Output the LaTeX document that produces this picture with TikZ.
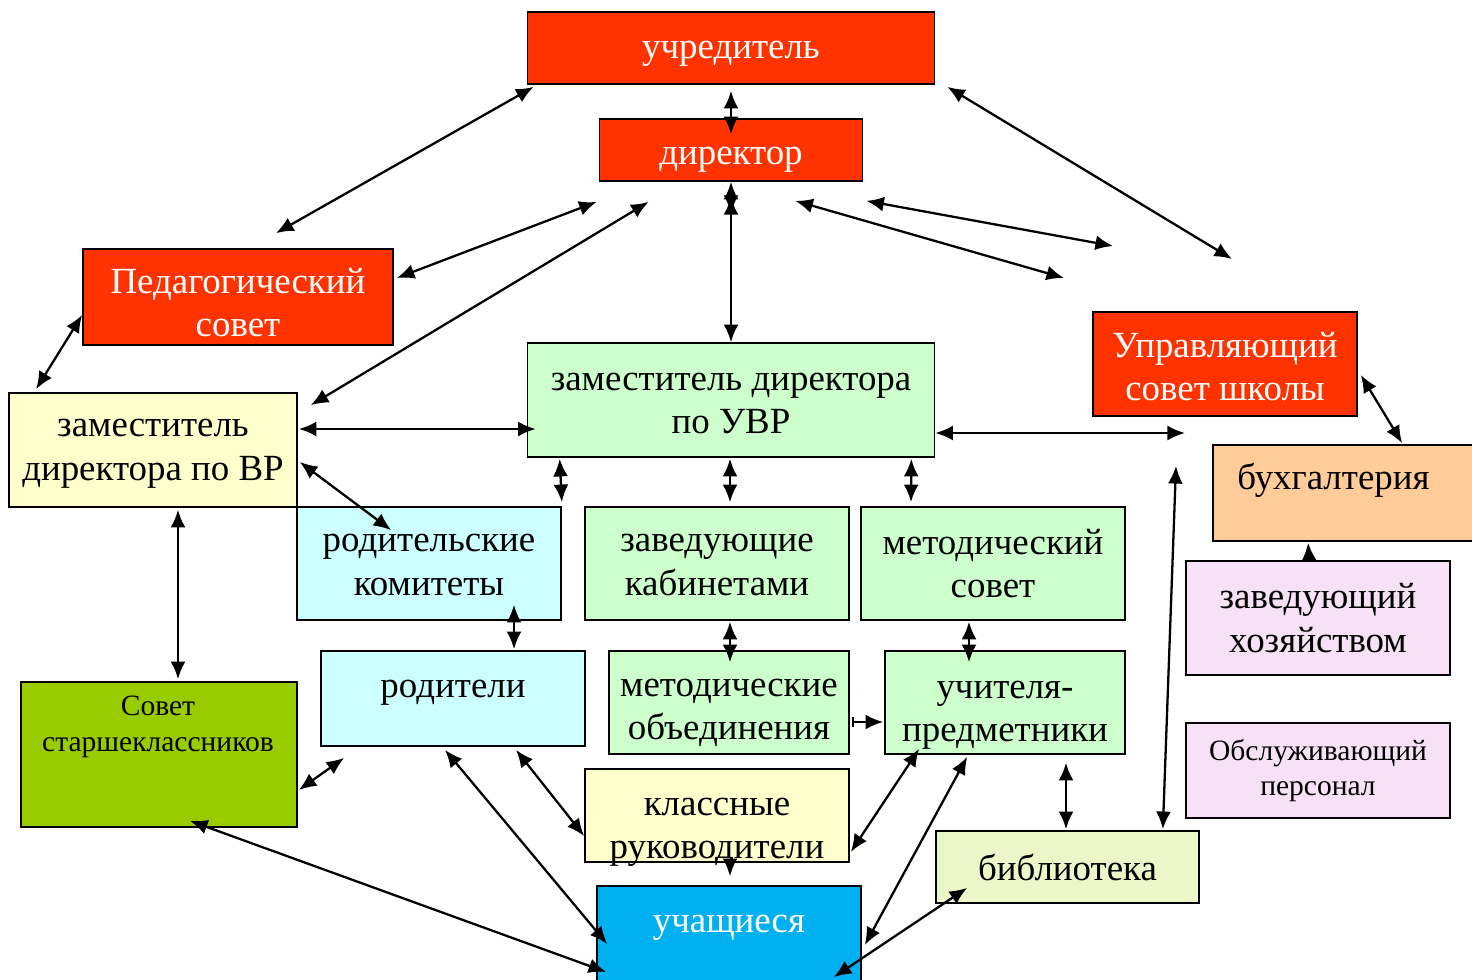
\documentclass[tikz,border=0pt]{standalone}
\usepackage{fontspec}
\setmainfont{Liberation Serif}
\usetikzlibrary{arrows.meta,calc,positioning}
\definecolor{boardColor}{RGB}{255,51,0}
\definecolor{deputyColor}{RGB}{255,255,204}
\definecolor{methodColor}{RGB}{204,255,204}
\definecolor{parentColor}{RGB}{204,255,255}
\definecolor{accountColor}{RGB}{255,204,153}
\definecolor{serviceColor}{RGB}{247,225,247}
\definecolor{pupilCouncilColor}{RGB}{153,204,0}
\definecolor{pupilColor}{RGB}{0,176,240}
\definecolor{libraryColor}{RGB}{235,247,200}
\newcommand{\txtdrop}[1]{\rule{0pt}{#1}}
\tikzset{unit/.style={draw, line width=1pt, align=center, inner sep=2pt, font=\fontsize{21}{24.7}\selectfont}}
\tikzset{board/.style={unit, fill=boardColor, text=white}}
\tikzset{staff/.style={unit, fill=methodColor}}
\tikzset{small/.style={font=\fontsize{16.8}{20.4}\selectfont}}
\tikzset{link/.style={{Latex[length=10pt,width=8.5pt]}-{Latex[length=10pt,width=8.5pt]}, line width=1.3pt}}
\tikzset{one/.style={-{Latex[length=10pt,width=8.5pt]}, line width=1.3pt}}

\begin{document}
\begin{tikzpicture}[x=0.02cm, y=-0.02cm]
\useasboundingbox (0,0) rectangle (1472,980);
% Nodes
\node (Uchreditel) [board, minimum width=8.14cm, minimum height=1.44cm] at (731,48) {\txtdrop{16.4pt}учредитель};
\node (Director) [board, minimum width=5.26cm, minimum height=1.24cm] at (731,150) {\txtdrop{21pt}директор};
\node (PedSovet) [board, minimum width=6.2cm, minimum height=1.92cm] at (238,297) {\txtdrop{21pt}Педагогический\\ совет};
\node (ManagingBoard) [board, minimum width=5.28cm, minimum height=2.08cm] at (1225,364) {\txtdrop{17.3pt}Управляющий\\ совет школы};

\node (DeputyVR) [unit, fill=deputyColor, minimum width=5.76cm, minimum height=2.28cm] at (153,450) {\txtdrop{14.2pt}заместитель\\ директора по ВР};
\node (DeputyUVR) [staff, minimum width=8.14cm, minimum height=2.28cm] at (731,400) {\txtdrop{13.6pt}заместитель директора\\ по УВР};

\node (Accounting) [unit, fill=accountColor, minimum width=5.64cm, minimum height=1.92cm] at (1354,493) {};
\node (AccountingText) [unit, draw=none, anchor=base west] at (1233,489) {бухгалтерия};

\node (ParentCommittees) [unit, fill=parentColor, minimum width=5.28cm, minimum height=2.26cm] at (429,563.5) {\txtdrop{11.4pt}родительские\\ комитеты};
\node (CabinetHeads) [staff, minimum width=5.28cm, minimum height=2.26cm] at (717,563.5) {\txtdrop{11.4pt}заведующие\\ кабинетами};
\node (MethodCouncil) [staff, minimum width=5.28cm, minimum height=2.26cm] at (993,563.5) {методический\\ совет};
\node (Housekeeper) [unit, fill=serviceColor, minimum width=5.28cm, minimum height=2.28cm] at (1318,618) {заведующий\\ хозяйством};

\node (PupilCouncil) [unit, fill=pupilCouncilColor, minimum width=5.52cm, minimum height=2.9cm] at (159,754.5) {};
\node (PupilCouncilText) [unit, small, draw=none, anchor=north] at (158,692) {Совет\\ старшеклассников};
\node (Parents) [unit, fill=parentColor, minimum width=5.28cm, minimum height=1.9cm] at (453,698.5) {};
\node (ParentsText) [unit, draw=none, anchor=base] at (453,697) {родители};
\node (MethodUnions) [staff, minimum width=4.8cm, minimum height=2.06cm] at (729,702.5) {\txtdrop{22pt}методические\\ объединения};
\node (Teachers) [staff, minimum width=4.8cm, minimum height=2.06cm] at (1005,702.5) {\txtdrop{24.4pt}учителя-\\ предметники};
\node (ServiceStaff) [unit, small, fill=serviceColor, minimum width=5.28cm, minimum height=1.9cm] at (1318,770.5) {Обслуживающий\\ персонал};

\node (ClassTeachers) [unit, fill=deputyColor, minimum width=5.28cm, minimum height=1.86cm] at (717,815.5) {};
\node (ClassTeachersText) [unit, draw=none] at (717,832) {классные\\ руководители};
\node (Library) [unit, fill=libraryColor, minimum width=5.26cm, minimum height=1.44cm] at (1067.5,867) {библиотека};
\node (Pupils) [unit, fill=pupilColor, minimum width=5.28cm, minimum height=2.48cm] at (729,948) {};
\node (PupilsText) [unit, draw=none, text=white, anchor=base] at (729,932) {учащиеся};

% free ends
\coordinate (DirectorA) at (731,213);
\coordinate (DirectorB) at (731,197);
\coordinate (ManagingTop) at (1232,259);
\coordinate (ManagingLeftA) at (1064,278);
\coordinate (ManagingLeftB) at (1113,246);
\coordinate (ManagingBottom) at (1185,433);
\coordinate (ManagingBelow) at (1176,466);

% Connectors
\draw [link] ($(Uchreditel.south)+(0,6)$) -- ($(Director.north)+(0,16)$);
\draw [link] ($(Uchreditel.south west)+(7,2)$) -- ($(PedSovet.north)+(38,-15)$);
\draw [link] ($(Uchreditel.south east)+(12,2)$) -- (ManagingTop);
\draw [link] (Director.south) -- (DirectorA);
\draw [link] (DirectorB) -- (DeputyUVR.north);
\draw [link] ($(Director.south west)+(-2,20)$) -- ($(PedSovet.east)+(3,-19)$);
\draw [link] ($(Director.south west)+(50,20)$) -- ($(DeputyVR.north east)+(13,13)$);
\draw [link] ($(Director.south east)+(-68,19)$) -- (ManagingLeftA);
\draw [link] ($(Director.south east)+(3,19)$) -- (ManagingLeftB);

\draw [link] ($(PedSovet.west)+(0,18)$) -- ($(DeputyVR.north west)+(28,-3)$);
\draw [link] ($(DeputyVR.east)+(1,-21)$) -- ($(DeputyUVR.west)+(9,29)$);
\draw [link] ($(DeputyUVR.east)+(0,33)$) -- (ManagingBottom);
\draw [link] ($(DeputyVR.east)+(2,12)$) -- ($(ParentCommittees.north west)+(95,24)$);
\draw [link] ($(DeputyUVR.south west)+(33,1)$) -- ($(ParentCommittees.north east)+(0,-4)$);
\draw [link] ($(DeputyUVR.south)+(-1,1)$) -- ($(CabinetHeads.north)+(13,-4)$);
\draw [link] ($(DeputyUVR.south east)+(-24,1)$) -- ($(MethodCouncil.north)+(-82,-4)$);
\draw [link] ($(DeputyVR.south)+(25,2)$) -- ($(PupilCouncil.north)+(19,-2)$);

\draw [link] ($(ParentCommittees.south)+(85,-16)$) -- ($(Parents.north)+(61,-1)$);
\draw [link] ($(CabinetHeads.south)+(13,1)$) -- ($(MethodUnions.north)+(1,12)$);
\draw [link] ($(MethodCouncil.south)+(-24,1)$) -- ($(Teachers.north)+(-36,12)$);
\draw [one, {Bar[width=6pt]}-{Latex[length=10pt,width=8.5pt]}] ($(MethodUnions.east)+(2,19.5)$) -- ($(Teachers.west)+(-1,19.5)$);

\draw [link] ($(PupilCouncil.east)+(1,35.5)$) -- ($(Parents.south west)+(24,11)$);
\draw [link] ($(PupilCouncil.south)+(31,-7)$) -- ($(Pupils.west)+(10,24)$);
\draw [link] ($(Parents.south)+(-8,3)$) -- ($(Pupils.west)+(11,-4)$);
\draw [link] ($(Parents.south)+(63,3)$) -- ($(ClassTeachers.west)+(0,20.5)$);
\draw [link] ($(Teachers.south west)+(35,-6)$) -- ($(ClassTeachers.south east)+(1,-11)$);
\draw [link] ($(Teachers.south west)+(83,2)$) -- ($(Pupils.east)+(3,-3)$);
\draw [link] ($(Teachers.south)+(61,8)$) -- ($(Library.north)+(-1.5,-1)$);
\draw [link] ($(Library.south west)+(32,-16)$) -- ($(Pupils.north east)+(-28,92)$);
\draw [link] (ManagingBelow) -- ($(Library.north east)+(-37,-1)$);
\draw [one] ($(ClassTeachers.south)+(13,0)$) -- ($(Pupils.north)+(1,-9)$);

\draw [link] ($(ManagingBoard.east)+(3,11)$) -- ($(Accounting.north west)+(190,-1)$);
\draw [one] ($(Housekeeper.north)+(-9,-1)$) -- ($(Accounting.south west)+(96,1)$);

\end{tikzpicture}
\end{document}
